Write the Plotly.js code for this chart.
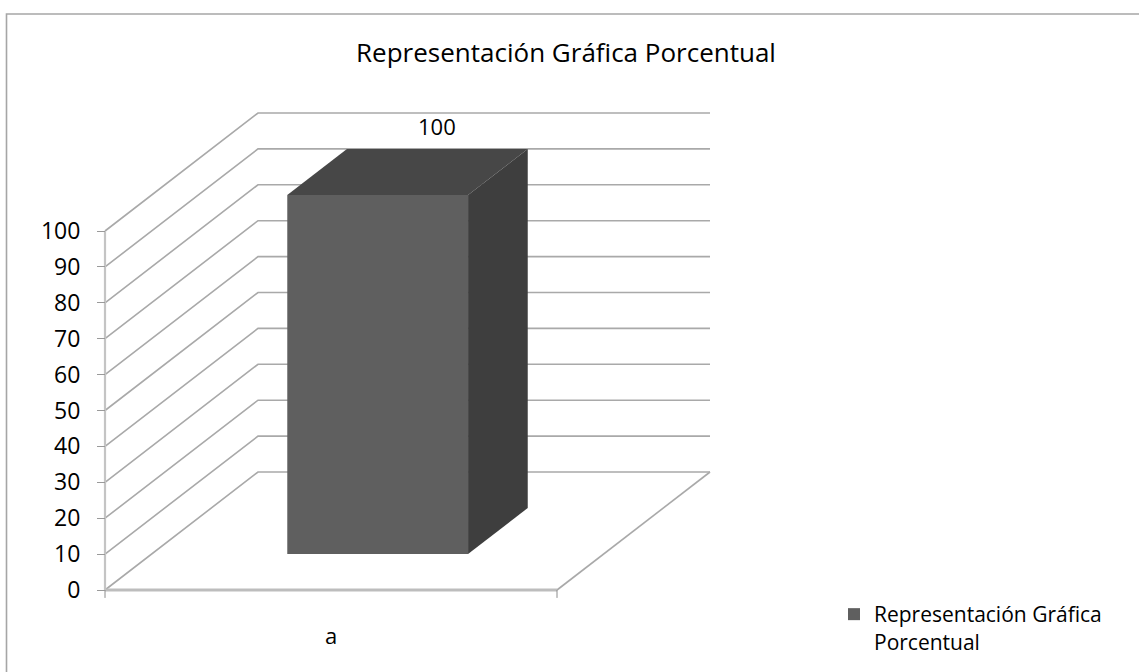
<!DOCTYPE html>
<html>
<head>
<meta charset="utf-8">
<script src="https://cdn.plot.ly/plotly-3.0.1.min.js"></script>
<style>html,body{margin:0;padding:0;background:#fff;}#chart{width:1139px;height:672px;}</style>
</head>
<body>
<div id="chart"></div>
<script>
// ---- data ----
const categories = ['a'];
const values = [100];
const seriesName = 'Representación Gráfica Porcentual';
const legendLabel = 'Representación Gráfica<br>Porcentual';
const chartTitle = 'Representación Gráfica Porcentual';
const yTicks = [0, 10, 20, 30, 40, 50, 60, 70, 80, 90, 100];
const dataLabels = ['100'];

// ---- 3D projection settings (oblique) ----
const DX = 0.3385;   // x shift (category units) for full depth
const DY = 32.87;    // y shift (value units) for full depth
const HALF = 0.2;    // half bar width (category units)
const D0 = 0.305, D1 = 0.695; // bar depth start / end

const FONT = 'Open Sans, Noto Sans, sans-serif';
const GRID = '#a9a9a9';
const W = 1139, H = 672;
const L = 95, R = 725, T = 100, B = 602;
const pxPerU = 452, pxPerV = 3.59, x0px = 105, y0px = 590;
const xr = [-0.5 + (L - x0px) / pxPerU, -0.5 + (R - x0px) / pxPerU];
const yr = [(y0px - B) / pxPerV, (y0px - T) / pxPerV];

const traces = [];
const nCat = categories.length;
const xMin = -0.5, xMax = nCat - 0.5;

// legend entry (series colour)
traces.push({type: 'bar', name: legendLabel, x: [null], y: [null],
  marker: {color: '#5f5f5f', line: {width: 0}}, hoverinfo: 'skip', showlegend: true});

// gridlines: side wall diagonal + back wall horizontal
yTicks.forEach(v => {
  traces.push({type: 'scatter', mode: 'lines', x: [xMin, xMin + DX, xMax + DX], y: [v, v + DY, v + DY],
    line: {color: GRID, width: 1.6}, hoverinfo: 'skip', showlegend: false});
});
// floor right edge
traces.push({type: 'scatter', mode: 'lines', x: [xMax, xMax + DX], y: [0, DY],
  line: {color: GRID, width: 1.6}, hoverinfo: 'skip', showlegend: false});
// floor front edge (axis)
traces.push({type: 'scatter', mode: 'lines', x: [xMin, xMax], y: [0, 0],
  line: {color: '#bdbdbd', width: 3}, hoverinfo: 'skip', showlegend: false});
// front vertical axis line
traces.push({type: 'scatter', mode: 'lines', x: [xMin, xMin], y: [0, yTicks[yTicks.length - 1]],
  line: {color: '#c4c4c4', width: 2.2}, hoverinfo: 'skip', showlegend: false});
// category boundary ticks
for (let i = 0; i <= nCat; i++) {
  traces.push({type: 'scatter', mode: 'lines', x: [i - 0.5, i - 0.5], y: [0, -2.2],
    line: {color: '#8c8c8c', width: 1}, hoverinfo: 'skip', showlegend: false});
}

// bars (3D boxes)
values.forEach((v, i) => {
  // top face
  traces.push({type: 'scatter', mode: 'lines', fill: 'toself', fillcolor: '#474747',
    x: [i - HALF + DX * D0, i + HALF + DX * D0, i + HALF + DX * D1, i - HALF + DX * D1, i - HALF + DX * D0],
    y: [v + DY * D0, v + DY * D0, v + DY * D1, v + DY * D1, v + DY * D0],
    line: {width: 0, color: '#474747'}, hoverinfo: 'skip', showlegend: false});
  // right side face
  traces.push({type: 'scatter', mode: 'lines', fill: 'toself', fillcolor: '#3e3e3e',
    x: [i + HALF + DX * D0, i + HALF + DX * D1, i + HALF + DX * D1, i + HALF + DX * D0, i + HALF + DX * D0],
    y: [DY * D0, DY * D1, v + DY * D1, v + DY * D0, DY * D0],
    line: {width: 0, color: '#3e3e3e'}, hoverinfo: 'skip', showlegend: false});
  // front face
  traces.push({type: 'scatter', mode: 'lines', fill: 'toself', fillcolor: '#5f5f5f',
    x: [i - HALF + DX * D0, i + HALF + DX * D0, i + HALF + DX * D0, i - HALF + DX * D0, i - HALF + DX * D0],
    y: [DY * D0, DY * D0, v + DY * D0, v + DY * D0, DY * D0],
    line: {width: 0, color: '#5f5f5f'}, hoverinfo: 'skip', showlegend: false});
});

const annotations = values.map((v, i) => ({
  x: i + DX * D1, y: v + DY * D1, xref: 'x', yref: 'y', text: dataLabels[i], showarrow: false,
  yanchor: 'bottom', yshift: 6, font: {family: FONT, size: 22, color: '#000'}
}));

const pw = R - L, ph = B - T;
const layout = {
  width: W, height: H,
  margin: {l: L, r: W - R, t: T, b: H - B, pad: 0},
  paper_bgcolor: '#fff', plot_bgcolor: 'rgba(0,0,0,0)',
  font: {family: FONT, color: '#000'},
  title: {text: chartTitle, font: {family: FONT, size: 26, color: '#000'},
    xref: 'container', yref: 'container', x: 566 / W, y: 1 - 53 / H, xanchor: 'center', yanchor: 'middle'},
  barmode: 'overlay',
  xaxis: {range: xr, tickvals: categories.map((c, i) => i), ticktext: categories, ticks: '',
    showgrid: false, zeroline: false, showline: false, ticklabelstandoff: 19,
    tickfont: {family: FONT, size: 22, color: '#000'}, fixedrange: true},
  yaxis: {range: yr, anchor: 'free', position: (x0px - L) / pw, tickvals: yTicks,
    ticks: 'outside', ticklen: 8, tickcolor: '#9a9a9a', tickwidth: 1,
    showgrid: false, zeroline: false, showline: false, ticklabelstandoff: 12,
    tickfont: {family: FONT, size: 23, color: '#000'}, fixedrange: true},
  showlegend: true,
  legend: {xref: 'container', yref: 'container', x: 834 / W, y: 1 - 594 / H, xanchor: 'left', yanchor: 'top',
    valign: 'top', itemwidth: 30, font: {family: FONT, size: 21, color: '#000'}, bgcolor: 'rgba(0,0,0,0)'},
  annotations: annotations,
  shapes: [{type: 'rect', xref: 'paper', yref: 'paper',
    x0: (6.5 - L) / pw, x1: (W + 10 - L) / pw, y0: (B - (H + 10)) / ph, y1: (B - 14) / ph,
    line: {color: '#a6a6a6', width: 1.6}, fillcolor: 'rgba(0,0,0,0)', layer: 'below'}]
};

Plotly.newPlot('chart', traces, layout, {staticPlot: true, displayModeBar: false});
</script>
</body>
</html>
